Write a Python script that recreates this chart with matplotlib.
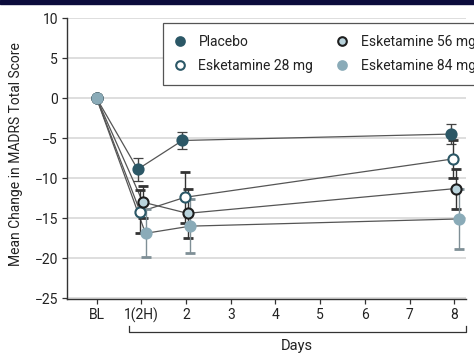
import matplotlib
matplotlib.use("Agg")
import matplotlib.pyplot as plt
from matplotlib.lines import Line2D
from matplotlib.transforms import blended_transform_factory

# ---- data -------------------------------------------------------------
tick_labels = ["BL", "1(2H)", "2", "3", "4", "5", "6", "7", "8"]
days = [0, 1, 2, 8]

placebo = [0, -8.9, -5.3, -4.5]
placebo_err = [0, 1.45, 1.1, 1.3]

eske28 = [0, -14.2, -12.4, -7.6]
eske28_err = [0, 2.7, 3.2, 2.4]

eske56 = [0, -13.0, -14.4, -11.3]
eske56_err = [0, 2.0, 3.1, 2.5]

eske84 = [0, -16.9, -16.0, -15.1]
eske84_err = [0, 3.0, 3.4, 3.75]

names = ["Placebo", "Esketamine 28 mg", "Esketamine 56 mg", "Esketamine 84 mg"]

# ---- styling ----------------------------------------------------------
plt.rcParams["font.family"] = ["Roboto", "DejaVu Sans"]

dark_teal = "#2b5766"
pale_blue = "#b9d3dc"
mid_blue = "#8aabb8"
text_col = "#222222"

series = [
    dict(y=placebo, e=placebo_err, face=dark_teal, edge=dark_teal, cap="#444444",
         capthick=0.9, bar="#444444", dx=-0.08),
    dict(y=eske28, e=eske28_err, face="white", edge=dark_teal, cap=dark_teal,
         capthick=2.0, bar="#333333", dx=-0.025),
    dict(y=eske56, e=eske56_err, face=pale_blue, edge="#1e1e1e", cap="#1e1e1e",
         capthick=2.0, bar="#333333", dx=0.035),
    dict(y=eske84, e=eske84_err, face=mid_blue, edge=mid_blue, cap=mid_blue,
         capthick=2.0, bar="#7f8f96", dx=0.095),
]

fig = plt.figure(figsize=(4.74, 3.54), dpi=100)
ax = fig.add_axes([67 / 474, 1 - 299 / 354, (466 - 67) / 474, (299 - 18) / 354])

# dark band across the top edge
fig.patches.append(plt.Rectangle((0, 1 - 4 / 354), 1, 4 / 354,
                                 transform=fig.transFigure, color="#0c0c3c",
                                 zorder=10))

ax.set_xlim(-0.66, 8.26)
ax.set_ylim(-25.1, 10)

for yv in range(-25, 11, 5):
    ax.axhline(yv, color="#dedede", lw=1.4, zorder=0)

for s in series:
    xs = [d + (s["dx"] if d != 0 else 0) for d in days]
    ax.plot(xs, s["y"], color="#555555", lw=0.9, zorder=2)
    # error bars (skip baseline)
    eb = ax.errorbar(xs[1:], s["y"][1:], yerr=s["e"][1:], fmt="none",
                     ecolor=s["bar"], elinewidth=1.0, capsize=3.3,
                     capthick=s["capthick"], zorder=3)
    for cl in eb[1]:
        cl.set_color(s["cap"])
    ax.plot(xs, s["y"], ls="none", marker="o", ms=7.3, mfc=s["face"],
            mec=s["edge"], mew=1.5, zorder=4)

ax.set_xticks(range(9))
ax.set_xticklabels(tick_labels)
ax.set_yticks(range(-25, 11, 5))
ax.tick_params(axis="both", labelsize=10, colors="#333333", labelcolor=text_col,
               length=3.5, width=0.9, direction="out", pad=3)

for side in ["top", "right"]:
    ax.spines[side].set_visible(False)
for side in ["left", "bottom"]:
    ax.spines[side].set_color("#333333")
    ax.spines[side].set_linewidth(1.0)

ax.set_ylabel("Mean Change in MADRS Total Score", fontsize=10, color=text_col)
ax.yaxis.set_label_coords(-0.11, 0.516)

# bracket spanning the day axis
tr = blended_transform_factory(ax.transData, fig.transFigure)
yb = 1 - 332 / 354
yt = 1 - 326 / 354
ax.add_line(Line2D([0.73, 0.73, 8.26, 8.26], [yt, yb, yb, yt], transform=tr,
                   color="#333333", lw=0.9, clip_on=False))
ax.text(4.48, 1 - 346 / 354, "Days", transform=tr, ha="center", va="center",
        fontsize=10.5, color=text_col)

handles = [Line2D([], [], ls="none", marker="o", ms=6.2, mfc=s["face"],
                  mec=s["edge"], mew=1.5) for s in series]
leg = fig.legend(handles, names,
                 loc="upper left", bbox_to_anchor=(163 / 474, 1 - 23 / 354),
                 ncol=2, frameon=True, fancybox=False, edgecolor="#555555",
                 framealpha=1, fontsize=10, handletextpad=0.9,
                 columnspacing=1.7, handlelength=0.8, borderpad=0.85,
                 borderaxespad=0, labelspacing=0.75)
leg.get_frame().set_linewidth(0.9)
for t in leg.get_texts():
    t.set_color(text_col)

fig.savefig("out.png", dpi=100)
